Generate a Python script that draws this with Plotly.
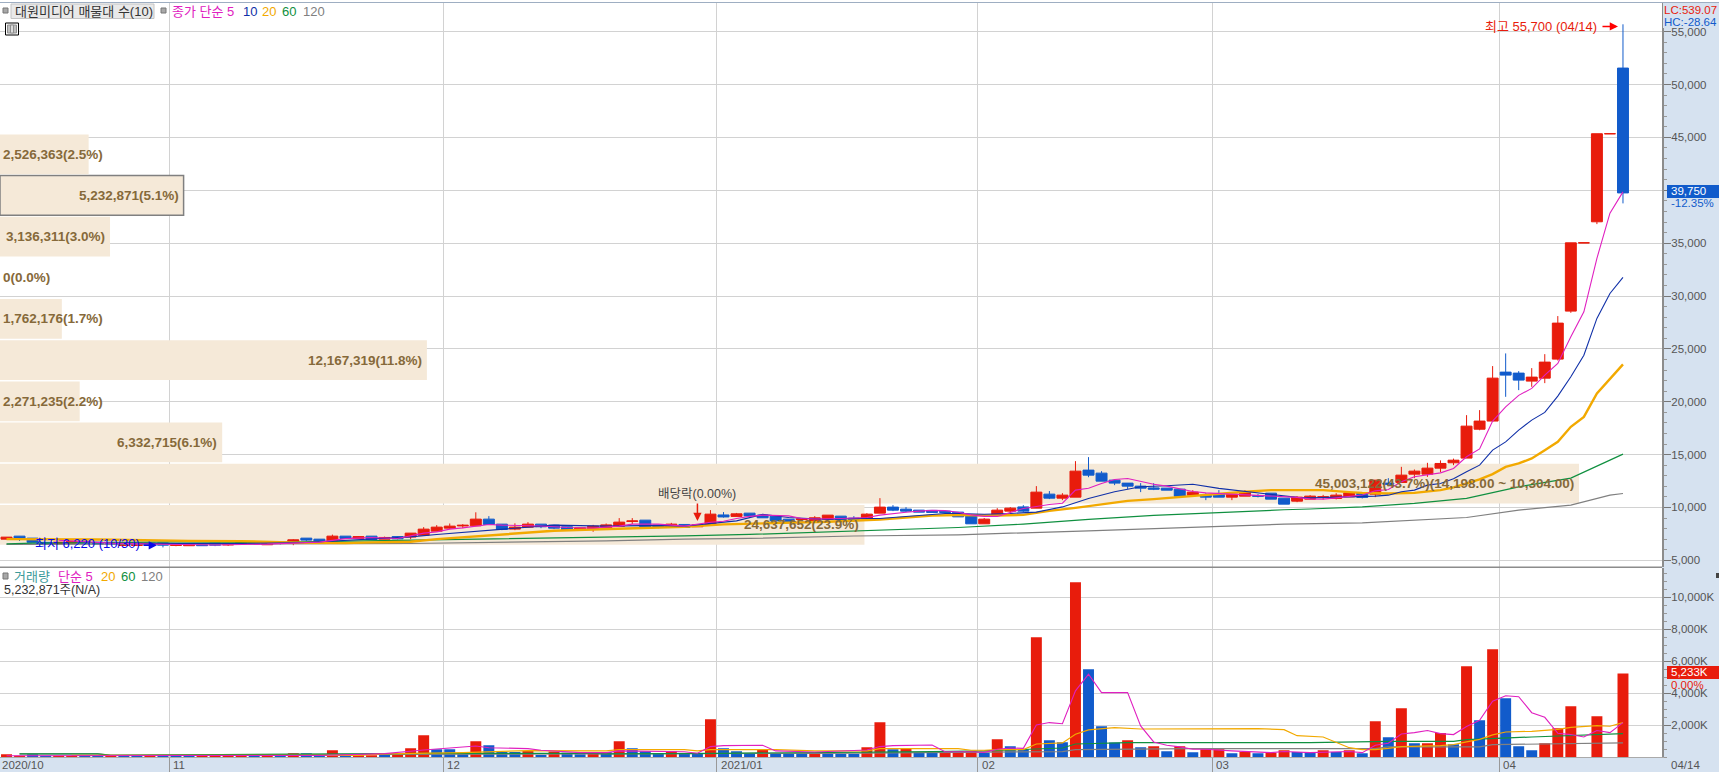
import plotly.graph_objects as go

W, H = 1719, 772

opens = [7000,7285,7096,6700,6550,6620,6810,6720,6700,6400,6400,6620,6640,6400,6380,6480,6620,6450,6560,6730,6470,6680,6600,7096,7000,6840,7285,7080,7285,7000,7240,7200,7380,7758,8042,8250,8260,8893,8420,7950,8136,8420,8326,8170,7880,7950,8070,8231,8680,8799,8326,8170,8390,8170,8350,9290,9150,9461,9272,9177,8890,8850,8770,8893,9177,8990,8988,9461,10030,9840,9745,9720,9650,9555,9272,8450,9272,9650,10050,9934,11258,10880,10974,13530,13245,12583,12300,12015,11850,11826,11730,11164,11164,11258,10974,11069,11100,11353,10880,10596,10785,10960,10850,11000,11380,11258,12300,12365,13150,13150,13718,14220,14665,17400,18170,22800,22705,21948,22231,24030,28570,35030,37020,45350,51560]
highs = [7190,7285,7096,6700,6720,6810,6810,6720,6700,6620,6620,6620,6640,6480,6480,6480,6620,6500,6720,6730,6620,6680,7000,7096,7000,7430,7285,7290,7285,7240,7290,7570,8136,8326,8480,8420,9540,9177,8420,8500,8610,8420,8326,8170,8070,8350,8480,8990,8990,8799,8326,8540,8390,8350,9750,9560,9480,9461,9272,9177,8890,9000,9180,9272,9177,9180,9460,10880,10220,10030,9745,9720,9650,9555,9272,9000,9934,10030,10220,12017,11550,11350,14380,14760,13430,12583,12300,12300,12300,11826,11730,11640,11350,11640,11258,11640,11260,11353,10880,11069,11164,11190,11350,11480,11380,12583,12770,13840,13590,14220,14450,14620,18730,19205,23370,24570,22894,23178,24500,28100,35030,35030,45350,45350,55700]
lows = [7000,6830,6700,6500,6550,6620,6620,6530,6530,6400,6400,6450,6220,6330,6380,6390,6340,6360,6480,6480,6470,6500,6430,6810,6810,6760,7070,7080,6970,7000,6980,7000,7380,7758,7950,8040,8260,8390,7850,7850,8136,8040,7950,7850,7880,7700,8070,8231,8420,8040,8040,8170,8110,8170,8350,9040,9150,9200,9020,8650,8640,8800,8640,8893,8640,8640,8800,9461,9650,9555,9555,9530,9530,9110,8450,8450,9180,9450,9550,9934,10790,10690,10974,12860,12488,12110,11730,11450,11640,11637,11069,11069,10690,10974,10690,11069,10950,10785,10312,10500,10785,10750,10760,11000,10850,10974,12015,12365,12770,12890,13340,14000,14665,17300,18075,20463,21096,21409,21758,23900,28410,35030,36800,45350,38760]
closes = [7190,7030,6700,6500,6720,6810,6620,6530,6530,6620,6620,6450,6430,6480,6480,6390,6430,6500,6680,6560,6620,6600,6940,6910,6810,7285,7070,7240,6970,7160,7030,7570,7947,8136,8231,8310,8893,8390,7920,8136,8420,8170,8042,7850,8070,8231,8350,8609,8720,8136,8170,8420,8110,8350,9366,9100,9395,9200,9020,8730,8640,8900,9020,9272,8865,8860,9366,10030,9745,9650,9555,9530,9530,9110,8450,8893,9745,9934,9650,11447,10880,11164,13434,13056,12488,12300,12015,11826,11730,11637,11069,11447,10974,10974,11258,11447,11070,10785,10312,10974,11069,11000,11164,11380,10950,12583,12200,13056,13434,13718,14160,14470,17690,18170,22230,22516,22043,22327,23746,27435,35030,35030,45350,45350,39750]

ma5_idx = [4,8,12,16,20,24,26,28,30,32,33,34,35,36,37,38,39,41,43,45,47,48,50,52,54,55,56,57,58,59,60,61,62,64,66,67,68,69,70,71,72,73,74,75,76,78,80,81,82,83,84,85,86,87,88,89,90,91,92,93,94,95,97,99,100,101,102,103,104,105,106,107,108,110,111,112,113,114,115,116,117,118,119,120,121,122,123,124]
ma5_val = [6900,6620,6520,6450,6530,6720,7050,7150,7060,7570,7690,7950,8070,8230,8390,8330,8300,8250,8100,8060,8230,8420,8420,8230,8600,8700,8950,9150,9270,9270,9200,8960,8900,8950,9050,9270,9430,9550,9650,9720,9700,9550,9300,9150,9150,9900,10280,10400,11640,11820,12270,12650,12740,12460,12200,12015,11760,11510,11380,11320,11260,11170,11070,10950,10810,10785,10900,11070,11170,11570,11700,12420,12900,13270,13690,14790,15540,18165,19520,20600,21260,22515,23620,26140,28500,33560,37840,39850]

ma10_idx = [9,12,18,23,27,29,31,33,35,36,38,42,46,50,52,54,56,58,60,63,65,67,72,73,75,77,79,81,83,85,87,89,91,93,95,97,99,100,104,105,106,107,108,109,110,111,112,113,114,115,116,117,118,119,120,121,122,123,124]
ma10_val = [6600,6600,6590,6690,6970,7070,7220,7445,7630,7790,7950,8326,8230,8300,8230,8490,8730,9340,9050,8865,8960,8960,9430,9430,9360,9430,9555,10050,10850,11480,11950,12050,12200,11800,11540,11250,10950,10900,11000,11070,11160,11480,11640,12110,12270,12710,13370,14000,15420,16200,17310,18260,18990,20530,22355,24400,27880,30240,31760]

ma20_idx = [0,2,7,14,18,23,26,28,31,33,36,39,42,45,49,52,55,59,63,67,71,73,76,78,80,82,84,86,88,90,93,95,97,99,101,103,104,106,108,110,111,112,113,114,115,116,117,118,119,120,121,122,123,124]
ma20_val = [7000,7000,6970,6840,6810,6650,6620,6700,6750,7000,7285,7540,7790,7920,8070,8170,8400,8490,8640,8865,9240,9270,9240,9300,9680,9960,10310,10625,10785,11000,11260,11480,11640,11665,11640,11450,11380,11320,11380,11640,11890,12270,12650,13150,13840,14160,14635,15420,16205,17625,18570,20785,22200,23530]

ma60_idx = [0,2,5,10,13,20,26,31,38,46,52,57,65,73,78,83,88,93,98,100,104,108,112,116,120,124]
ma60_val = [6550,6620,6650,6720,6750,6690,6810,6840,7030,7160,7310,7445,7790,8100,8420,8870,9240,9530,9780,9850,10060,10380,10850,11950,12770,15040]

ma120_idx = [0,2,7,18,31,38,46,52,57,65,73,83,93,98,104,110,112,116,120,123,124]
ma120_val = [6500,6500,6500,6560,6590,6690,6840,7000,7070,7300,7410,7790,8230,8420,8540,8960,9050,9745,10220,11160,11320]

volumes = [190,100,190,100,100,100,90,90,90,90,90,90,90,90,90,90,90,90,90,90,90,90,250,250,100,440,100,130,130,150,150,560,1375,500,500,290,1000,750,330,330,400,150,370,280,190,330,330,1000,560,375,230,375,230,230,2375,560,375,230,460,270,250,210,210,210,210,210,625,2190,500,520,330,330,290,400,400,290,1125,690,500,7500,1060,940,10940,5500,1940,920,1060,625,690,375,690,310,500,500,250,330,250,290,440,330,290,440,330,440,250,2250,1250,3060,875,875,1520,810,5690,2310,6750,3690,690,440,875,1810,3190,0,2560,0,5233]
vol_dirs = list("rrbbrrbbrbbrb" + "bbrrrrbrbrbbrbrrbrrr" + "bbbrbbbrbrbbr" + "brbbbrbbrbbbrbbbrbbbrrbrbbrr" + "rbrbbrbbrbbbrbrbrb" + "rrbrbrrbbrbrbrbrbrrbrbrbbbrrrrrrr")

vma5_idx = [0,6,14,24,29,32,34,36,37,40,41,44,46,47,52,53,54,55,58,59,62,66,67,68,71,72,74,75,76,77,78,79,80,81,82,83,84,86,87,88,89,90,91,92,94,95,97,98,100,103,104,105,106,107,108,109,110,111,112,113,114,115,116,117,118,119,120,121,122,123,124]
vma5_val = [100,120,110,110,230,460,600,710,600,540,440,290,290,400,350,250,670,730,750,400,330,460,670,730,770,350,350,310,500,580,560,2020,2170,2100,4150,5190,4040,4040,1960,960,750,650,500,500,400,360,290,360,290,360,290,750,875,1460,1540,1670,1480,1420,1920,2310,3500,3850,3790,2790,2500,1500,1420,1270,1670,1540,2170]

vma20_idx = [5,27,29,35,40,46,47,52,53,54,59,62,66,67,73,74,75,76,78,79,81,82,83,85,87,91,96,98,99,101,102,103,104,105,106,107,110,111,112,113,114,115,117,119,120,122,123,124]
vma20_val = [120,120,210,290,420,400,480,480,400,480,480,400,400,540,540,440,440,480,480,830,900,1440,1710,1850,1770,1770,1790,1730,1350,1270,920,600,480,480,560,670,730,790,960,1120,1400,1580,1625,1750,1875,1980,1940,2170]

vma60_idx = [1,7,8,33,45,46,55,63,71,75,81,82,86,100,106,111,112,117,124]
vma60_val = [210,210,120,250,250,210,250,290,360,400,580,830,920,920,1000,1000,1100,1270,1480]

vma120_idx = [1,7,8,45,46,63,81,82,91,105,106,113,114,124]
vma120_val = [210,210,145,190,190,250,360,480,540,540,650,650,790,900]

bin_edges = [6410,10304,14198,18092,21986,25880,29774,33668,37562,41456,45350]
bin_volumes = [24637652,45003122,6332715,2271235,12167319,1762176,0,3136311,5232871,2526363]
bin_labels = ["24,637,652(23.9%)","45,003,122(43.7%)(14,198.00 ~ 10,304.00)","6,332,715(6.1%)","2,271,235(2.2%)","12,167,319(11.8%)","1,762,176(1.7%)","0(0.0%)","3,136,311(3.0%)","5,232,871(5.1%)","2,526,363(2.5%)"]

month_ticks = [12.5,33.5,54.5,74.5,92.5,114.5]
month_labels = ["11","12","2021/01","02","03","04"]
vol_tickvals = [2000,4000,6000,8000,10000]
vol_ticktext = ["2,000K","4,000K","6,000K","8,000K","10,000K"]
price_ticks = [5000,10000,15000,20000,25000,30000,35000,40000,45000,50000,55000]

RED, BLUE = "#E81C0C", "#115BCB"
MAG, NAVY, ORG, GRN, GRY = "#E020C0", "#1030A8", "#F2A900", "#109040", "#808080"
STRIP = "#D6E2F0"
GRID = "#D2D2D2"
BEIGE = "#F5E9D8"
BROWN = "#86693A"
SANS = "Liberation Sans, Noto Sans CJK KR, sans-serif"

PX_PER_CANDLE = 13.036
PLOT_R = 1662
index_range = [-0.5, PLOT_R / PX_PER_CANDLE - 0.5]
PX_PER_VOL = 1579 / 45003122
vol_range = [0, PLOT_R / PX_PER_VOL]

def py(p):
    return 1 - p / H
def px(p):
    return p / W

fig = go.Figure()

# main subplot has no marks: it carries grid and axes only
fig.add_trace(go.Scatter(x=[0], y=[10000], mode="markers", marker=dict(opacity=0), xaxis="x", yaxis="y", hoverinfo="skip", showlegend=False))

centers = [(a + b) / 2 for a, b in zip(bin_edges[:-1], bin_edges[1:])]
bin_lw = [1.5 if i == 8 else 0 for i in range(10)]
fig.add_trace(go.Bar(y=centers, x=bin_volumes, orientation="h", width=3894 * 0.965, xaxis="x3", yaxis="y",
                     marker=dict(color=BEIGE, line=dict(color="#808080", width=bin_lw)), hoverinfo="skip", showlegend=False))

idx = list(range(len(closes)))
fig.add_trace(go.Candlestick(x=idx, open=opens, high=highs, low=lows, close=closes, xaxis="x4", yaxis="y",
                             increasing=dict(line=dict(color=RED, width=1), fillcolor=RED),
                             decreasing=dict(line=dict(color=BLUE, width=1), fillcolor=BLUE),
                             whiskerwidth=0, hoverinfo="skip", showlegend=False))
for xs, ys, c, w in [(ma120_idx, ma120_val, GRY, 1.2), (ma60_idx, ma60_val, GRN, 1.2), (ma20_idx, ma20_val, ORG, 2.4),
                     (ma10_idx, ma10_val, NAVY, 1.1), (ma5_idx, ma5_val, MAG, 1.1)]:
    fig.add_trace(go.Scatter(x=xs, y=ys, mode="lines", line=dict(color=c, width=w), xaxis="x4", yaxis="y", hoverinfo="skip", showlegend=False))

vol_colors = [RED if d == "r" else BLUE for d in vol_dirs]
fig.add_trace(go.Bar(x=idx, y=volumes, width=0.84, marker=dict(color=vol_colors, line=dict(width=0)), xaxis="x2", yaxis="y2", hoverinfo="skip", showlegend=False))
for xs, ys, c, w in [(vma120_idx, vma120_val, GRY, 1.2), (vma60_idx, vma60_val, GRN, 1.2), (vma20_idx, vma20_val, ORG, 1.2), (vma5_idx, vma5_val, MAG, 1.1)]:
    fig.add_trace(go.Scatter(x=xs, y=ys, mode="lines", line=dict(color=c, width=w), xaxis="x2", yaxis="y2", hoverinfo="skip", showlegend=False))

ann = []
def T(x, y, text, color="#444", size=12, anchor="left", bg=None, **kw):
    d = dict(xref="paper", yref="paper", x=px(x), y=py(y), text=text, showarrow=False, xanchor=anchor, yanchor="middle",
             font=dict(family=SANS, size=size, color=color), borderpad=0, borderwidth=0)
    if bg:
        d["bgcolor"] = bg
    d.update(kw)
    ann.append(d)

# volume-profile labels
for v, c, lab in zip(bin_volumes, centers, bin_labels):
    wide = v * PX_PER_VOL > 100
    ann.append(dict(xref="x3" if wide else "paper", yref="y", x=v if wide else px(1), y=c, text="<b>" + lab + "</b>", showarrow=False,
                    xanchor="right" if wide else "left", yanchor="middle", xshift=-3 if wide else 0,
                    font=dict(family=SANS, size=13.5, color=BROWN)))

# peak / trough / dividend annotations
T(1597, 26, "최고 55,700 (04/14)", RED, 13, "right")
ann.append(dict(xref="x4", yref="y", x=124, y=55500, ax=-22, ay=0, axref="pixel", ayref="pixel", text="", showarrow=True, arrowhead=2, arrowsize=1.1, arrowwidth=1.5, arrowcolor="#FF0000", standoff=5))
T(87, 543, "최저 6,220 (10/30)", "#0A0AE8", 13, "center")
ann.append(dict(xref="x4", yref="y", x=12, y=6420, ax=-21, ay=0, axref="pixel", ayref="pixel", text="", showarrow=True, arrowhead=2, arrowsize=1.1, arrowwidth=1.5, arrowcolor="#0A0AE8", standoff=6))
ann.append(dict(xref="x4", yref="y", x=53, y=8620, ax=0, ay=-20, axref="pixel", ayref="pixel", text="", showarrow=True, arrowhead=2, arrowsize=1.1, arrowwidth=1.5, arrowcolor=RED, standoff=1))
T(697, 494, "배당락(0.00%)", "#444", 12.5, "center")

# legends
T(15, 11, "대원미디어 매물대 수(10)", "#333", 13)
T(172, 11, "종가 단순 5", MAG, 13)
T(243, 11, "10", NAVY, 13)
T(262, 11, "20", ORG, 13)
T(282, 11, "60", GRN, 13)
T(303, 11, "120", GRY, 13)
T(14, 576, "거래량", "#3A9A9A", 13)
T(58, 576, "단순 5", MAG, 13)
T(101, 576, "20", ORG, 13)
T(121, 576, "60", GRN, 13)
T(141, 576, "120", GRY, 13)
T(4, 590, "5,232,871주(N/A)", "#333", 12.5)

# right-strip texts
T(1664, 10, "LC:539.07", RED, 11.5)
T(1664, 22, "HC:-28.64", BLUE, 11.5)
T(1671, 191, "39,750", "#FFFFFF", 11.5)
T(1671, 203, "-12.35%", BLUE, 11.5)
T(1671, 672, "5,233K", "#FFFFFF", 11.5)
T(1671, 685, "0.00%", RED, 11.5)
T(1671, 765, "04/14", "#555", 11.5)

# month labels in the bottom band
T(2, 765, "2020/10", "#555", 11.5)
for m, lab in zip(month_ticks, month_labels):
    ann.append(dict(xref="x2", yref="paper", x=m, y=py(765), text=lab, showarrow=False, xanchor="left", yanchor="middle", xshift=2,
                    font=dict(family=SANS, size=11.5, color="#555")))

def R(x0, y0, x1, y1, fill=None, line=None, lw=1, layer="above"):
    return dict(type="rect", xref="paper", yref="paper", x0=px(x0), x1=px(x1), y0=py(y0), y1=py(y1), layer=layer,
                fillcolor=fill or "rgba(0,0,0,0)", line=dict(color=line or "rgba(0,0,0,0)", width=lw))

shapes = [
    R(0, 0, W, 2, "#FFFFFF"),
    R(0, 2, W, 3, "#9EAEC2"),
    R(0, 566.5, PLOT_R, 568, "#8C8C8C"),
    R(1663, 3, W, 28, STRIP),
    R(1667, 185, W, 198, BLUE),
    R(1667, 666, W, 679, RED),
    R(11, 4, 154, 18.5, "#E9E9E9", "#C4C4C4"),
    R(3, 8, 8, 13, "#A8A8A8", "#777"),
    R(161, 8, 166, 13, "#A8A8A8", "#777"),
    R(3, 573, 8, 579, "#A8A8A8", "#777"),
    R(5.5, 23, 18.5, 35, "#FFFFFF", "#000000"),
    R(7.5, 25, 16.5, 33, "#C0C0C0", "#909090"),
    R(10.5, 25, 13.5, 33, "#DDDDDD", "#909090"),
    R(1716, 573, 1719, 578, "#444444"),
]

common_index_axis = dict(range=index_range, domain=[0, PLOT_R / W])
layout = dict(
    width=W, height=H, margin=dict(l=0, r=0, t=0, b=0), autosize=False,
    paper_bgcolor=STRIP, plot_bgcolor="#FFFFFF", showlegend=False, boxgap=0.16, boxgroupgap=0, barmode="overlay", hovermode=False,
    xaxis=dict(**common_index_axis, anchor="y", tickmode="array", tickvals=month_ticks, showticklabels=False, ticks="",
               showgrid=True, gridcolor=GRID, gridwidth=1, zeroline=False, showline=False),
    xaxis2=dict(**common_index_axis, anchor="y2", tickmode="array", tickvals=month_ticks, showticklabels=False, ticks="outside", ticklen=15,
                tickcolor="#999", showgrid=True, gridcolor=GRID, gridwidth=1, zeroline=False, showline=True, linecolor="#AAAAAA", linewidth=1),
    xaxis3=dict(range=vol_range, domain=[0, PLOT_R / W], anchor="y", overlaying="x", visible=False),
    xaxis4=dict(**common_index_axis, anchor="y", overlaying="x", visible=False, rangeslider=dict(visible=False)),
    yaxis=dict(domain=[py(567), py(3)], range=[4366, 57715], anchor="x", side="right", tickmode="array", tickvals=price_ticks, tickformat=",d",
               ticks="outside", ticklen=7, tickcolor="#777", ticklabelstandoff=-2, tickfont=dict(family=SANS, size=11.5, color="#555"),
               minor=dict(dtick=1000, ticks="outside", ticklen=3, tickcolor="#999", showgrid=False),
               showgrid=True, gridcolor=GRID, gridwidth=1, zeroline=False, showline=True, linecolor="#8C8C8C", linewidth=2),
    yaxis2=dict(domain=[py(757.3), py(568)], range=[0, 11831], anchor="x2", side="right", tickmode="array", tickvals=vol_tickvals, ticktext=vol_ticktext,
                ticks="outside", ticklen=7, tickcolor="#777", ticklabelstandoff=-2, tickfont=dict(family=SANS, size=11.5, color="#555"),
                minor=dict(dtick=500, ticks="outside", ticklen=3, tickcolor="#999", showgrid=False),
                showgrid=True, gridcolor=GRID, gridwidth=1, zeroline=False, showline=True, linecolor="#8C8C8C", linewidth=2),
    annotations=ann, shapes=shapes,
)
fig.update_layout(**layout)

fig.write_html("out.html", config=dict(displayModeBar=False, staticPlot=True),
               post_script="document.body.style.margin='0';document.documentElement.style.overflow='hidden';document.body.style.overflow='hidden';")
